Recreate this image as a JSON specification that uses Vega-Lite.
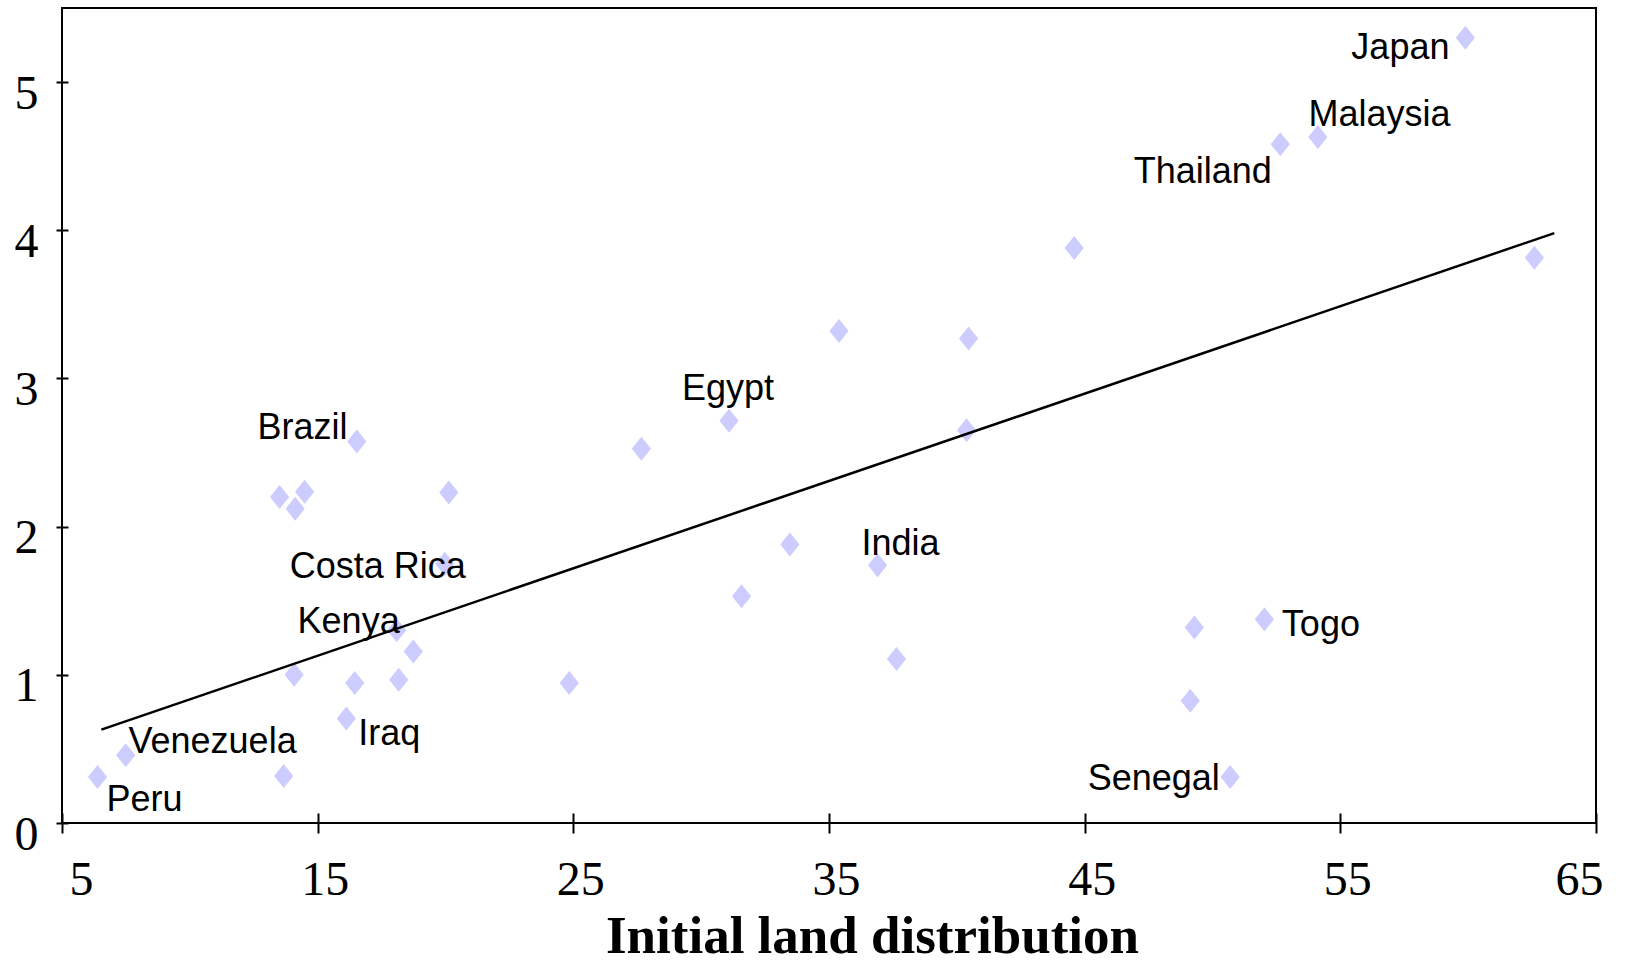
{
  "$schema": "https://vega.github.io/schema/vega-lite/v6.json",
  "width": 1534,
  "height": 815,
  "autosize": {"type": "none"},
  "padding": {"left": 62, "top": 8, "right": 43, "bottom": 139},
  "background": "white",
  "config": {
    "view": {"stroke": "black", "strokeWidth": 2},
    "axis": {"grid": false, "domain": false, "tickColor": "black", "tickWidth": 2, "labelColor": "black", "labelFont": "Liberation Serif", "labelFontSize": 48, "titleColor": "black"}
  },
  "datasets": {
    "points": [
      {"country": "Japan", "land": 59.89, "growth": 5.30},
      {"country": "Malaysia", "land": 54.12, "growth": 4.63},
      {"country": "Thailand", "land": 52.65, "growth": 4.58},
      {"country": "", "land": 44.59, "growth": 3.88},
      {"country": "", "land": 62.59, "growth": 3.815},
      {"country": "", "land": 35.39, "growth": 3.32},
      {"country": "", "land": 40.46, "growth": 3.27},
      {"country": "Egypt", "land": 31.09, "growth": 2.715},
      {"country": "", "land": 40.38, "growth": 2.65},
      {"country": "", "land": 27.66, "growth": 2.525},
      {"country": "Brazil", "land": 16.53, "growth": 2.574},
      {"country": "", "land": 13.51, "growth": 2.20},
      {"country": "", "land": 14.49, "growth": 2.235},
      {"country": "", "land": 14.12, "growth": 2.12},
      {"country": "", "land": 20.13, "growth": 2.23},
      {"country": "", "land": 33.47, "growth": 1.88},
      {"country": "India", "land": 36.90, "growth": 1.74},
      {"country": "Costa Rica", "land": 19.97, "growth": 1.75},
      {"country": "", "land": 31.58, "growth": 1.53},
      {"country": "Togo", "land": 52.03, "growth": 1.375},
      {"country": "", "land": 49.29, "growth": 1.32},
      {"country": "Kenya", "land": 18.09, "growth": 1.30},
      {"country": "", "land": 18.74, "growth": 1.157},
      {"country": "", "land": 37.64, "growth": 1.107},
      {"country": "", "land": 14.08, "growth": 1.00},
      {"country": "", "land": 16.45, "growth": 0.945},
      {"country": "", "land": 18.17, "growth": 0.966},
      {"country": "", "land": 24.84, "growth": 0.945},
      {"country": "", "land": 49.13, "growth": 0.825},
      {"country": "Iraq", "land": 16.12, "growth": 0.705},
      {"country": "Venezuela", "land": 7.49, "growth": 0.458},
      {"country": "Peru", "land": 6.39, "growth": 0.31},
      {"country": "", "land": 13.67, "growth": 0.317},
      {"country": "Senegal", "land": 50.69, "growth": 0.31}
    ],
    "fit": [
      {"land": 6.54, "growth": 0.630},
      {"land": 63.37, "growth": 3.981}
    ],
    "labels": [
      {"country": "Japan", "lx": 57.35, "ly": 5.247},
      {"country": "Malaysia", "lx": 56.53, "ly": 4.80},
      {"country": "Thailand", "lx": 49.62, "ly": 4.415},
      {"country": "Egypt", "lx": 31.05, "ly": 2.948},
      {"country": "Brazil", "lx": 14.41, "ly": 2.687},
      {"country": "India", "lx": 37.80, "ly": 1.904},
      {"country": "Costa Rica", "lx": 17.35, "ly": 1.749},
      {"country": "Kenya", "lx": 16.21, "ly": 1.375},
      {"country": "Togo", "lx": 54.24, "ly": 1.354},
      {"country": "Iraq", "lx": 17.80, "ly": 0.621},
      {"country": "Venezuela", "lx": 10.89, "ly": 0.564},
      {"country": "Peru", "lx": 8.23, "ly": 0.176},
      {"country": "Senegal", "lx": 47.70, "ly": 0.317}
    ]
  },
  "layer": [
    {
      "data": {"name": "points"},
      "mark": {"type": "point", "shape": "M0,-1L0.8,0L0,1L-0.8,0Z", "filled": true, "color": "#ccccff", "opacity": 1, "size": 576},
      "encoding": {
        "x": {"field": "land", "type": "quantitative", "scale": {"domain": [5, 65], "nice": false, "zero": false},
          "axis": {"values": [5, 15, 25, 35, 45, 55, 65], "format": "d", "title": "Initial land distribution", "tickSize": 20, "offset": -10, "labelPadding": 23, "labelOffset": 7,
            "titleFont": "Liberation Serif", "titleFontWeight": "bold", "titleFontSize": 53, "titleX": 810, "titleY": 139, "titleBaseline": "alphabetic", "titleAlign": "center", "titleAnchor": null}},
        "y": {"field": "growth", "type": "quantitative", "scale": {"domain": [0, 5.5], "nice": false},
          "axis": {"values": [0, 1, 2, 3, 4, 5], "format": "d", "title": null, "tickSize": 12, "offset": -6, "labelPadding": 18, "labelOffset": 12}}
      }
    },
    {
      "data": {"name": "fit"},
      "mark": {"type": "line", "color": "black", "strokeWidth": 2.5},
      "encoding": {
        "x": {"field": "land", "type": "quantitative"},
        "y": {"field": "growth", "type": "quantitative"}
      }
    },
    {
      "data": {"name": "labels"},
      "mark": {"type": "text", "font": "Liberation Sans", "fontSize": 36, "color": "black", "align": "center", "baseline": "middle", "dy": 3},
      "encoding": {
        "x": {"field": "lx", "type": "quantitative"},
        "y": {"field": "ly", "type": "quantitative"},
        "text": {"field": "country", "type": "nominal"}
      }
    }
  ]
}
